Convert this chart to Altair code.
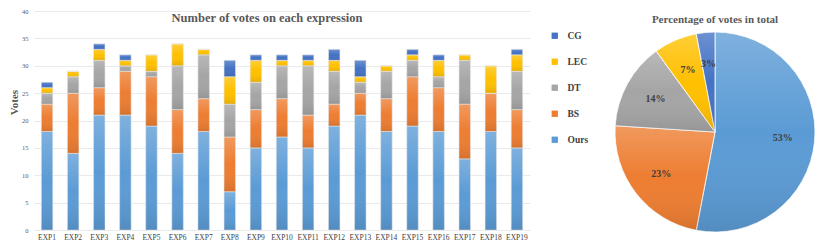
import altair as alt
import pandas as pd

exps = ["EXP1", "EXP2", "EXP3", "EXP4", "EXP5", "EXP6", "EXP7", "EXP8", "EXP9", "EXP10",
        "EXP11", "EXP12", "EXP13", "EXP14", "EXP15", "EXP16", "EXP17", "EXP18", "EXP19"]
ours = [18, 14, 21, 21, 19, 14, 18, 7, 15, 17, 15, 19, 21, 18, 19, 18, 13, 18, 15]
bs = [5, 11, 5, 8, 9, 8, 6, 10, 7, 7, 6, 4, 4, 6, 9, 8, 10, 7, 7]
dt = [2, 3, 5, 1, 1, 8, 8, 6, 5, 6, 9, 6, 2, 5, 3, 2, 8, 0, 7]
lec = [1, 1, 2, 1, 3, 4, 1, 5, 4, 1, 1, 2, 1, 1, 1, 3, 1, 5, 3]
cg = [1, 0, 1, 1, 0, 0, 0, 3, 1, 1, 1, 2, 3, 0, 1, 1, 0, 0, 1]

methods = ["Ours", "BS", "DT", "LEC", "CG"]
legend_order = ["CG", "LEC", "DT", "BS", "Ours"]
colors = ["#4472C4", "#FFC000", "#A5A5A5", "#ED7D31", "#5B9BD5"]
pie_pct = [53, 23, 14, 7, 3]

series = {"Ours": ours, "BS": bs, "DT": dt, "LEC": lec, "CG": cg}
rows = []
for k, m in enumerate(methods):
    for e, v in zip(exps, series[m]):
        rows.append({"exp": e, "method": m, "votes": v, "ord": k})
df = pd.DataFrame(rows)

pie_df = pd.DataFrame({"method": methods, "pct": pie_pct, "ord": list(range(5)),
                       "label": [f"{p}%" for p in pie_pct]})

SERIF = "Liberation Serif"
color_scale = alt.Scale(domain=legend_order, range=colors)

shade = alt.LinearGradient(
    gradient="linear", x1=0, x2=0, y1=0, y2=1,
    stops=[alt.GradientStop(color="rgba(255,255,255,0.22)", offset=0),
           alt.GradientStop(color="rgba(255,255,255,0.0)", offset=0.5),
           alt.GradientStop(color="rgba(0,0,0,0.10)", offset=1)],
)

x_enc = alt.X("exp:N", sort=exps, title=None,
              scale=alt.Scale(paddingInner=0.56, paddingOuter=0.28),
              axis=alt.Axis(labelAngle=0, labelFont=SERIF, labelFontSize=7.5, labelColor="#404040",
                            domain=False, ticks=False, labelPadding=3))
y_enc = alt.Y("votes:Q", stack="zero", title="Votes",
              scale=alt.Scale(domain=[0, 40]),
              axis=alt.Axis(values=[0, 5, 10, 15, 20, 25, 30, 35, 40], labelFontSize=6.5,
                            labelColor="#595959", labelFont=SERIF, domain=False, ticks=False,
                            labelPadding=6, gridColor="#E4E4E4", gridWidth=0.8,
                            titleFont=SERIF, titleFontSize=11, titleFontWeight="bold",
                            titleColor="#595959", titlePadding=2, titleY=91))
order_enc = alt.Order("ord:Q", sort="ascending")

bars = alt.Chart(df).mark_bar(stroke="#E8E8E8", strokeWidth=0.6).encode(
    x=x_enc, y=y_enc,
    color=alt.Color("method:N", scale=color_scale,
                    legend=alt.Legend(title=None, orient="none", legendX=516, legendY=20,
                                      symbolType="square", symbolSize=40, symbolStrokeWidth=0,
                                      labelFont=SERIF, labelFontSize=9.5, labelFontWeight="bold",
                                      labelColor="#404040", rowPadding=15, labelOffset=8)),
    order=order_enc,
)
bar_shade = alt.Chart(df).mark_bar(color=shade).encode(
    x=x_enc, y=y_enc, detail="method:N", order=order_enc,
)

title_txt = alt.Chart(pd.DataFrame({"t": ["Number of votes on each expression"]})).mark_text(
    font=SERIF, fontSize=12.5, fontWeight="bold", color="#595959", baseline="middle"
).encode(text="t:N", x=alt.value(233), y=alt.value(7))

bar_chart = alt.layer(bars, bar_shade, title_txt).properties(width=496, height=219)

PIE_CX, PIE_CY = 100, 121
base = alt.Chart(pie_df).encode(
    theta=alt.Theta("pct:Q", stack=True),
    order=alt.Order("ord:Q", sort="ascending"),
)
arcs = base.mark_arc(outerRadius=100, stroke="white", strokeWidth=0.8).encode(
    color=alt.Color("method:N", scale=color_scale, legend=None),
    x=alt.value(PIE_CX), y=alt.value(PIE_CY),
)
arc_shade = base.mark_arc(outerRadius=100, color=shade).encode(
    x=alt.value(PIE_CX), y=alt.value(PIE_CY),
)
labels = base.mark_text(radius=68, font=SERIF, fontSize=10, fontWeight="bold",
                        color="#404040").encode(text="label:N", x=alt.value(PIE_CX), y=alt.value(PIE_CY))

pie_title = alt.Chart(pd.DataFrame({"t": ["Percentage of votes in total"]})).mark_text(
    font=SERIF, fontSize=11, fontWeight="bold", color="#595959", baseline="middle"
).encode(text="t:N", x=alt.value(PIE_CX), y=alt.value(9))

pie_chart = alt.layer(arcs, arc_shade, labels, pie_title).properties(width=200, height=219)

chart = alt.hconcat(bar_chart, pie_chart, spacing=24).resolve_legend(color="independent").resolve_scale(color="independent").configure_view(stroke=None).properties(padding=0)

chart.save("out.html", embed_options={"renderer": "svg", "actions": False})
